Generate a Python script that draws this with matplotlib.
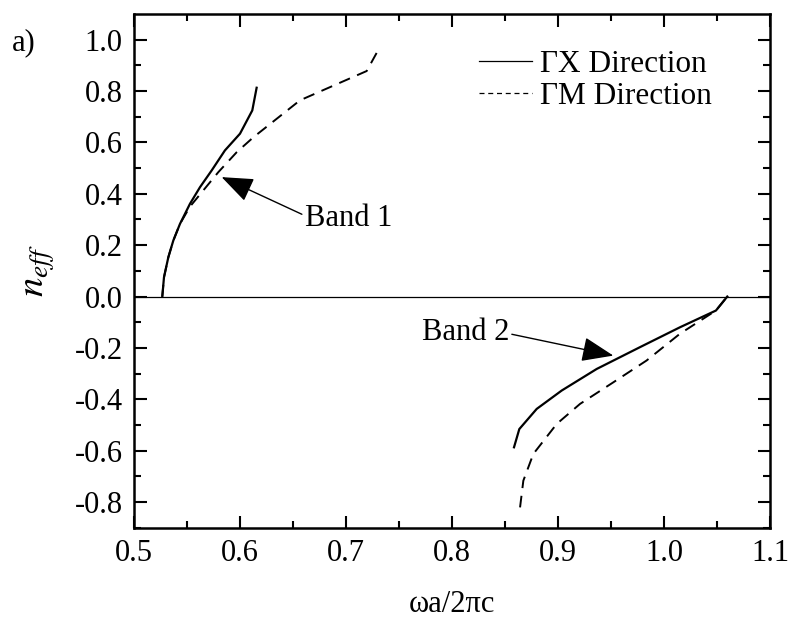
import matplotlib
matplotlib.use("Agg")
import matplotlib.pyplot as plt
from matplotlib.lines import Line2D

plt.rcParams['font.family'] = ['Liberation Serif', 'DejaVu Serif']
plt.rcParams['mathtext.fontset'] = 'stix'

# Band 1, Gamma-X (solid) and Gamma-M (dashed)
b1_gx_x = [0.5267, 0.5283, 0.5324, 0.5371, 0.5434, 0.5528, 0.5623, 0.5733, 0.5858, 0.600, 0.6116, 0.6157]
b1_gx_y = [0.0, 0.075, 0.153, 0.218, 0.283, 0.361, 0.426, 0.491, 0.569, 0.634, 0.7246, 0.813]
b1_gm_x = [0.5267, 0.5283, 0.5324, 0.5371, 0.5434, 0.5528, 0.5795, 0.5969, 0.6126, 0.6566, 0.7195, 0.7299]
b1_gm_y = [0.0, 0.075, 0.153, 0.218, 0.283, 0.350, 0.484, 0.562, 0.62, 0.764, 0.878, 0.956]

# Band 2
b2_gx_x = [0.8585, 0.8635, 0.8799, 0.9035, 0.9365, 0.9774, 1.0151, 1.049, 1.0597]
b2_gx_y = [-0.587, -0.516, -0.4376, -0.366, -0.282, -0.197, -0.1196, -0.0545, 0.0]
b2_gm_x = [0.8642, 0.8673, 0.8767, 0.8988, 0.9208, 0.9522, 0.9836, 1.015, 1.049, 1.0597]
b2_gm_y = [-0.821, -0.717, -0.613, -0.496, -0.418, -0.334, -0.249, -0.145, -0.0545, 0.0]

xticks = [0.5, 0.6, 0.7, 0.8, 0.9, 1.0, 1.1]
yticks = [-0.8, -0.6, -0.4, -0.2, 0.0, 0.2, 0.4, 0.6, 0.8, 1.0]

fig = plt.figure(figsize=(7.9, 6.23), dpi=100)
ax = fig.add_axes([0.1696, 0.153, 0.8051, 0.8245])

dash = (6, 4)
ax.axhline(0, color='black', lw=0.9)
ax.plot(b1_gx_x, b1_gx_y, color='black', lw=1.6)
ax.plot(b1_gm_x, b1_gm_y, color='black', lw=1.4, dashes=dash)
ax.plot(b2_gx_x, b2_gx_y, color='black', lw=1.6)
ax.plot(b2_gm_x, b2_gm_y, color='black', lw=1.4, dashes=dash)

arrow = dict(arrowstyle='-|>,head_length=0.9,head_width=0.35', color='black', lw=1.0, shrinkA=0, shrinkB=0)
ax.annotate('Band 1', xy=(0.5827, 0.465), xytext=(0.661, 0.304), fontsize=22,
            va='center', ha='left', arrowprops=dict(arrow, relpos=(0, 0.6)))
ax.annotate('Band 2', xy=(0.9522, -0.230), xytext=(0.7714, -0.139), fontsize=22,
            va='center', ha='left', arrowprops=dict(arrow, relpos=(1, 0.45)))

handles = [Line2D([], [], color='black', lw=0.9),
           Line2D([], [], color='black', lw=0.9, dashes=(4, 3))]
ax.legend(handles, ['\u0393X Direction', '\u0393M Direction'], loc='upper right',
          bbox_to_anchor=(0.929, 0.955), frameon=False, fontsize=22.5, handlelength=1.7,
          handletextpad=0.28, labelspacing=0.12, borderaxespad=0)

ax.set_xlim(0.5, 1.1)
ax.set_ylim(-0.9, 1.1)
ax.set_xticks(xticks)
ax.set_yticks(yticks)
ax.set_xticklabels(['%.1f' % v for v in xticks])
ax.set_yticklabels(['%.1f' % v for v in yticks])
ax.set_xticks([0.55, 0.65, 0.75, 0.85, 0.95, 1.05], minor=True)
ax.set_yticks([-0.9, -0.7, -0.5, -0.3, -0.1, 0.1, 0.3, 0.5, 0.7, 0.9], minor=True)
ax.tick_params(which='both', direction='in', top=True, right=True, width=1.5, labelsize=22, pad=8)
ax.tick_params(which='major', length=9)
ax.tick_params(which='minor', length=5)
for s in ax.spines.values():
    s.set_linewidth(1.8)

ax.set_xlabel('\u03c9a/2\u03c0c', fontsize=22, labelpad=16)
ax.set_ylabel('$n_{eff}$', fontsize=28, labelpad=13)
fig.text(0.015, 0.92, 'a)', fontsize=22)

fig.savefig('out.png', dpi=100)
